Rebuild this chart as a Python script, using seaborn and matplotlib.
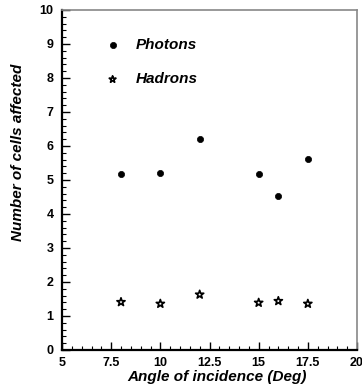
import matplotlib
matplotlib.use("Agg")
import matplotlib.pyplot as plt
import seaborn as sns
import pandas as pd
from matplotlib.ticker import MultipleLocator, FixedLocator, FixedFormatter

angles = [8, 10, 12, 15, 16, 17.5]
photons = [5.18, 5.22, 6.20, 5.17, 4.54, 5.62]
hadrons = [1.41, 1.36, 1.63, 1.39, 1.44, 1.36]
series_names = ["Photons", "Hadrons"]
xtick_vals = [5, 7.5, 10, 12.5, 15, 17.5, 20]
xtick_labels = ["5", "7.5", "10", "12.5", "15", "17.5", "20"]

df = pd.DataFrame({
    "angle": angles * 2,
    "cells": photons + hadrons,
    "type": [series_names[0]] * len(angles) + [series_names[1]] * len(angles),
})

sns.set_style("white")
plt.rcParams["font.family"] = ["Liberation Sans", "DejaVu Sans"]

fig = plt.figure(figsize=(3.62, 3.88), dpi=100)
ax = fig.add_axes([62/362, 1 - 350/388, 295/362, 340/388])

sns.scatterplot(data=df[df["type"] == series_names[0]], x="angle", y="cells", ax=ax,
                marker="o", color="black", s=20, edgecolor="black", linewidth=0.5,
                label=series_names[0])
sns.scatterplot(data=df[df["type"] == series_names[1]], x="angle", y="cells", ax=ax,
                marker="*", facecolor="none", edgecolor="black", s=38, linewidth=1.2,
                label=series_names[1])

ax.set_xlim(5, 20)
ax.set_ylim(0, 10)
ax.xaxis.set_major_locator(FixedLocator(xtick_vals))
ax.xaxis.set_major_formatter(FixedFormatter(xtick_labels))
ax.xaxis.set_minor_locator(MultipleLocator(0.5))
ax.yaxis.set_major_locator(MultipleLocator(1))
ax.yaxis.set_minor_locator(MultipleLocator(0.2))
ax.tick_params(axis="both", which="both", bottom=True, left=True, top=False, right=False)
ax.tick_params(axis="both", which="major", direction="in", length=6, width=1.0,
               labelsize=9, color="black", labelcolor="black")
ax.tick_params(axis="both", which="minor", direction="in", length=3, width=0.8,
               color="black")
ax.tick_params(axis="x", which="major", pad=5)
ax.tick_params(axis="y", which="major", pad=6)
for lab in ax.get_xticklabels() + ax.get_yticklabels():
    lab.set_fontweight("bold")

for side in ["left", "bottom"]:
    ax.spines[side].set_color("black")
    ax.spines[side].set_linewidth(1.6)
for side in ["top", "right"]:
    ax.spines[side].set_color("#888888")
    ax.spines[side].set_linewidth(1.2)

ax.set_xlabel("Angle of incidence (Deg)", fontsize=11, fontweight="bold",
              fontstyle="italic", color="black")
ax.set_ylabel("Number of cells affected", fontsize=11, fontweight="bold",
              fontstyle="italic", color="black")
ax.xaxis.set_label_coords(0.527, -0.06)
ax.yaxis.set_label_coords(-0.125, 0.58)

leg = ax.legend(loc="upper left", bbox_to_anchor=(0.099, 0.958), frameon=False,
                prop={"weight": "bold", "style": "italic", "size": 11},
                handletextpad=1.0, labelspacing=1.33, handlelength=1.0)
for t in leg.get_texts():
    t.set_color("black")
leg.legend_handles[1].set_sizes([26])
leg.legend_handles[0].set_sizes([20])

fig.savefig("out.png", dpi=100)
